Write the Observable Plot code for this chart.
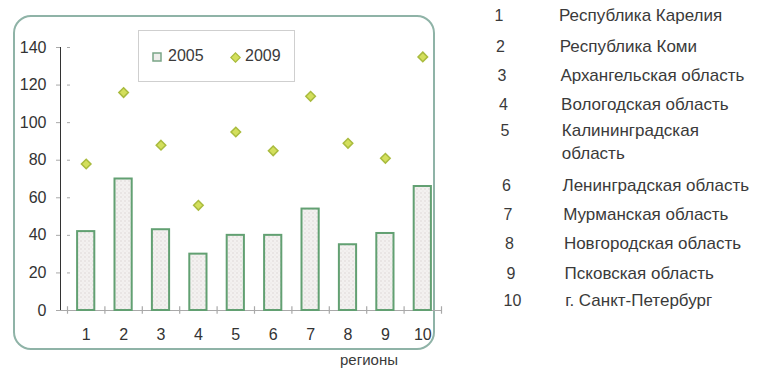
<!DOCTYPE html>
<html>
<head>
<meta charset="utf-8">
<script src="https://cdn.jsdelivr.net/npm/d3@7"></script>
<script src="https://cdn.jsdelivr.net/npm/@observablehq/plot@0.6"></script>
<style>
  html, body { margin: 0; padding: 0; background: #fff; }
  body { width: 782px; height: 369px; overflow: hidden; font-family: "Liberation Sans", Arial, sans-serif; color: #333; }
  #wrap { position: relative; width: 782px; height: 369px; }
  #frame { position: absolute; left: 13px; top: 15px; width: 422px; height: 335px; border: 2px solid #8fb3a7; border-radius: 18px; box-sizing: border-box; }
  #chart { position: absolute; left: 0; top: 0; }
  #legend { position: absolute; left: 138px; top: 30px; width: 157px; height: 52px; border: 1px solid #cfcfcf; box-sizing: border-box; background: #fff; font-size: 16px; color: #3a3a3a; }
  #legend .it { position: absolute; top: 16px; line-height: 18px; }
  #xlabel { position: absolute; left: 340px; top: 351px; font-size: 15px; color: #3a3a3a; line-height: 18px; }
  .row { position: absolute; font-size: 17px; color: #3a3a3a; }
  .num { position: absolute; width: 30px; text-align: center; font-size: 16px; color: #3a3a3a; line-height: 19px; }
</style>
</head>
<body>
<div id="wrap">
  <div id="frame"></div>
  <div id="chart"></div>
  <div id="legend"></div>
  <div id="xlabel"></div>
  <div id="list"></div>
</div>
<script>
// ---- data ----
const regions = [1, 2, 3, 4, 5, 6, 7, 8, 9, 10];
const regionNames = [
  "Республика Карелия",
  "Республика Коми",
  "Архангельская область",
  "Вологодская область",
  "Калининградская\nобласть",
  "Ленинградская область",
  "Мурманская область",
  "Новгородская область",
  "Псковская область",
  "г. Санкт-Петербург"
];
const values2005 = [42, 70, 43, 30, 40, 40, 54, 35, 41, 66];
const values2009 = [78, 116, 88, 56, 95, 85, 114, 89, 81, 135];
const yTicks = [0, 20, 40, 60, 80, 100, 120, 140];
const seriesNames = ["2005", "2009"];
const xTitle = "регионы";

const rows = regions.map((r, i) => ({region: r, v2005: values2005[i], v2009: values2009[i]}));
const boundaries = [regions[0] - 0.5, ...regions.map(r => r + 0.5)];
const halfBar = 0.23;

const plot = Plot.plot({
  width: 460,
  height: 369,
  marginLeft: 60,
  marginRight: 19,
  marginTop: 47,
  marginBottom: 59,
  style: {fontFamily: "'Liberation Sans', Arial, sans-serif", fontSize: "16px", color: "#333", background: "transparent", overflow: "visible"},
  x: {domain: [regions[0] - 0.5, regions[regions.length - 1] + 0.5], insetLeft: 7, ticks: regions, tickFormat: d => String(d), tickSize: 0, tickPadding: 18, label: null},
  y: {domain: [0, 140], ticks: yTicks, tickSize: 4, tickPadding: 10, label: null, line: true},
  marks: [
    Plot.ruleY([0], {stroke: "#a9a9a9", strokeWidth: 1.2}),
    Plot.ruleX(boundaries, {x: d => d, y1: -2, y2: 2, stroke: "#a9a9a9", strokeWidth: 1.2}),
    Plot.ruleY(yTicks, {y: d => d, x1: regions[0] - 0.5, x2: regions[0] - 0.42, stroke: "#a9a9a9", strokeWidth: 1}),
    Plot.rectY(rows, {x1: d => d.region - halfBar, x2: d => d.region + halfBar, y1: 0, y2: "v2005", fill: "url(#dots)", stroke: "#62a072", strokeWidth: 2}),
    Plot.dot(rows, {x: "region", y: "v2009", symbol: "diamond2", r: 4.3, fill: "#d3df5c", stroke: "#a9bb3e", strokeWidth: 1.5})
  ]
});

// dotted fill pattern for bars
const defs = d3.select(plot).insert("defs", ":first-child");
const pat = defs.append("pattern").attr("id", "dots").attr("patternUnits", "userSpaceOnUse").attr("width", 4).attr("height", 4);
pat.append("rect").attr("width", 4).attr("height", 4).attr("fill", "#f3f1f0");
pat.append("circle").attr("cx", 1).attr("cy", 1).attr("r", 0.7).attr("fill", "#d9d2d0");
pat.append("circle").attr("cx", 3).attr("cy", 3).attr("r", 0.5).attr("fill", "#e3dcda");

d3.select(plot).selectAll("[aria-label='y-axis tick'] path, [aria-label='y-axis line'] line, [aria-label='y-axis tick'] line").attr("stroke", "#a9a9a9");
document.getElementById("chart").appendChild(plot);

// legend
const lg = document.getElementById("legend");
lg.innerHTML =
  `<svg style="position:absolute;left:13px;top:21px" width="10" height="10"><rect x="1" y="1" width="8" height="8" fill="#eeeeec" stroke="#7aa587" stroke-width="1.5"/></svg>` +
  `<span class="it" style="left:29px">${seriesNames[0]}</span>` +
  `<svg style="position:absolute;left:91px;top:21px" width="11" height="11"><polygon points="5.5,0.8 10.2,5.5 5.5,10.2 0.8,5.5" fill="#d3df5c" stroke="#a9bb3e" stroke-width="1.2"/></svg>` +
  `<span class="it" style="left:106px">${seriesNames[1]}</span>`;

document.getElementById("xlabel").textContent = xTitle;

// region list
const rowTops = [6, 37, 66, 95, 121, 176, 205, 234, 264, 291];
const list = document.getElementById("list");
regions.forEach((r, i) => {
  const n = document.createElement("div");
  n.className = "num";
  n.style.left = (484 + i * 1.5) + "px";
  n.style.top = rowTops[i] + "px";
  n.textContent = r;
  list.appendChild(n);
  const t = document.createElement("div");
  t.className = "row";
  t.style.left = (559 + i * 0.7) + "px";
  t.style.top = (rowTops[i] - 2) + "px";
  t.style.whiteSpace = "pre";
  t.style.lineHeight = "23px";
  t.textContent = regionNames[i];
  list.appendChild(t);
});
</script>
</body>
</html>
